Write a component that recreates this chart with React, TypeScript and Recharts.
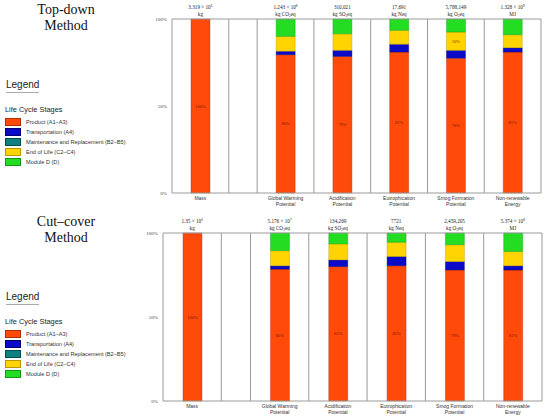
import React from 'react';
import { BarChart, Bar, XAxis, YAxis, ReferenceLine, LabelList } from 'recharts';

// ---- shared categories ----
const categoryLines: string[][] = [
  ['Mass'],
  ['Global Warming', 'Potential'],
  ['Acidification', 'Potential'],
  ['Eutrophication', 'Potential'],
  ['Smog Formation', 'Potential'],
  ['Non-renewable', 'Energy'],
];
// category centres on a numeric axis (the 2nd slot is a half-width empty gap)
const positions = [0.5, 2, 3, 4, 5, 6];
const dividers = [0, 1, 1.5, 2.5, 3.5, 4.5, 5.5, 6.5];
const yTicks = [0, 50, 100];

const stageNames = [
  'Product (A1–A3)',
  'Transportation (A4)',
  'Maintenance and Replacement (B2–B5)',
  'End of Life (C2–C4)',
  'Module D (D)',
];
const stageColors = ['#FF4A0A', '#0A0AC8', '#0E8080', '#FFD400', '#22DD22'];
const stageStrokes = ['#B03000', '#000070', '#005050', '#B89600', '#119911'];

// unit text per column
const unitMain = ['kg', 'kg CO', 'kg SO', 'kg Neq', 'kg O', 'MJ'];
const unitSub = ['', '2', '2', '', '3', ''];
const unitEnd = ['', 'eq', 'eq', '', 'eq', ''];

// ---- Top-down method ----
const topHeaderValues = ['3.319 × 10', '1.243 × 10', '310,021', '17,691', '5,788,149', '1.328 × 10'];
const topHeaderExps = ['6', '8', '', '', '', '9'];
const topProduct = [100, 79.5, 78.5, 81, 77.5, 81];
const topTransport = [0, 2, 3.5, 4.5, 4.5, 2.5];
const topMaint = [0, 0, 0, 0, 0, 0];
const topEol = [0, 8.5, 9.5, 8, 10.5, 7.5];
const topModuleD = [0, 10, 8.5, 6.5, 7.5, 9];
const topProductLabels = ['100%', '80%', '79%', '81%', '78%', '81%'];
const topEolLabels = ['', '', '', '', '10%', ''];

// ---- Cut-cover method ----
const botHeaderValues = ['1.35 × 10', '5.176 × 10', '134,269', '7721', '2,459,205', '5.374 × 10'];
const botHeaderExps = ['6', '7', '', '', '', '8'];
const botProduct = [100, 78.5, 80, 80.5, 78, 78];
const botTransport = [0, 2, 4, 5.5, 5, 2.5];
const botMaint = [0, 0, 0, 0, 0, 0];
const botEol = [0, 9, 9.5, 8.5, 10, 8.5];
const botModuleD = [0, 10.5, 6.5, 5.5, 7, 11];
const botProductLabels = ['100%', '80%', '81%', '82%', '79%', '81%'];
const botEolLabels = ['', '', '', '', '', ''];

const SERIF = '"Liberation Serif", "DejaVu Serif", serif';
const SANS = '"Liberation Sans", Arial, sans-serif';

function buildRows(
  product: number[], transport: number[], maint: number[], eol: number[], moduleD: number[],
  productLabels: string[], eolLabels: string[],
) {
  return positions.map((x, i) => ({
    x,
    product: product[i],
    transport: transport[i],
    maint: maint[i],
    eol: eol[i],
    moduleD: moduleD[i],
    productLabel: productLabels[i],
    eolLabel: eolLabels[i],
  }));
}

const makeHeaderTick = (values: string[], exps: string[]) => (props: any) => {
  const { x, y, payload } = props;
  const i = positions.indexOf(payload.value);
  if (i < 0) return <g />;
  return (
    <g>
      <text x={x} y={y} dy={-10} textAnchor="middle" fontSize={5.2} fontFamily={SERIF} fill="#222">
        {values[i]}
        {exps[i] ? <tspan dy={-1.8} fontSize={3.5}>{exps[i]}</tspan> : null}
      </text>
      <text x={x} y={y} dy={-3} textAnchor="middle" fontSize={5.2} fontFamily={SERIF} fill="#222">
        {unitMain[i]}
        {unitSub[i] ? <tspan dy={1.2} fontSize={3.5}>{unitSub[i]}</tspan> : null}
        {unitSub[i] ? <tspan dy={-1.2}>{unitEnd[i]}</tspan> : null}
      </text>
    </g>
  );
};

const CategoryTick = (props: any) => {
  const { x, y, payload } = props;
  const i = positions.indexOf(payload.value);
  if (i < 0) return <g />;
  return (
    <g>
      {categoryLines[i].map((line, k) => (
        <text key={k} x={x} y={y + 7 + k * 6.3} textAnchor="middle" fontSize={5} fontFamily={SANS} fill="#333">
          {line}
        </text>
      ))}
    </g>
  );
};

function Panel(props: {
  top: number; height: number; left: number; right: number; rows: any[];
  headerValues: string[]; headerExps: string[];
}) {
  const { rows } = props;
  const seriesKeys = ['product', 'transport', 'maint', 'eol', 'moduleD'];
  return (
    <div style={{ position: 'absolute', left: 0, top: props.top }}>
      <BarChart
        width={550}
        height={props.height}
        data={rows}
        margin={{ top: 0, right: props.right, bottom: 0, left: props.left }}
      >
        <XAxis
          xAxisId="top"
          orientation="top"
          type="number"
          dataKey="x"
          domain={[0, 6.5]}
          ticks={positions}
          interval={0}
          height={19}
          axisLine={false}
          tickLine={false}
          tickSize={0}
          tickMargin={0}
          tick={makeHeaderTick(props.headerValues, props.headerExps)}
        />
        <XAxis
          xAxisId="main"
          type="number"
          dataKey="x"
          domain={[0, 6.5]}
          ticks={positions}
          interval={0}
          height={19}
          axisLine={false}
          tickLine={false}
          tickSize={0}
          tickMargin={0}
          tick={CategoryTick}
        />
        <YAxis
          type="number"
          domain={[0, 100]}
          ticks={yTicks}
          width={32}
          axisLine={false}
          tickLine={false}
          tickSize={3}
          tickMargin={2}
          tickFormatter={(v: number) => `${v}%`}
          tick={{ fontSize: 5, fontFamily: SERIF, fill: '#444' }}
        />
        {seriesKeys.map((k, si) => (
          <Bar
            key={k}
            xAxisId="main"
            dataKey={k}
            stackId="s"
            barSize={19}
            fill={stageColors[si]}
            stroke={stageStrokes[si]}
            strokeWidth={0.4}
            isAnimationActive={false}
          >
            {k === 'product' ? (
              <LabelList dataKey="productLabel" position="center" fontSize={4.5} fontFamily={SERIF} fill="#7a1800" />
            ) : null}
            {k === 'eol' ? (
              <LabelList dataKey="eolLabel" position="center" fontSize={4.5} fontFamily={SERIF} fill="#7a3a00" />
            ) : null}
          </Bar>
        ))}
        {dividers.map((d) => (
          <ReferenceLine key={`d${d}`} xAxisId="main" x={d} stroke="#9a9a9a" strokeWidth={1} ifOverflow="extendDomain" />
        ))}
        <ReferenceLine xAxisId="main" y={100} stroke="#9a9a9a" strokeWidth={1} />
        <ReferenceLine xAxisId="main" y={0} stroke="#9a9a9a" strokeWidth={1} />
      </BarChart>
    </div>
  );
}

function SideBlock(props: { top: number; title: string[] }) {
  const t = props.top;
  return (
    <>
      {props.title.map((line, k) => (
        <div
          key={k}
          style={{
            position: 'absolute', left: 16, width: 100, top: t + k * 16 - 9, height: 18, lineHeight: '18px',
            textAlign: 'center', fontFamily: SERIF, fontSize: 14, color: '#111',
          }}
        >
          {line}
        </div>
      ))}
      <div
        style={{
          position: 'absolute', left: 6, top: t + 69, fontFamily: SANS, fontSize: 10, lineHeight: '12px',
          color: '#222', borderBottom: '1px solid #aaa', paddingBottom: 1,
        }}
      >
        Legend
      </div>
      <div
        style={{ position: 'absolute', left: 5, top: t + 95, fontFamily: SANS, fontSize: 7.4, lineHeight: '10px', color: '#222' }}
      >
        Life Cycle Stages
      </div>
      {stageNames.map((name, i) => (
        <div key={name} style={{ position: 'absolute', left: 5, top: t + 108 + i * 10, height: 8, display: 'flex', alignItems: 'center' }}>
          <div style={{ width: 16, height: 7.5, background: stageColors[i], boxSizing: 'border-box', border: `0.5px solid ${stageStrokes[i]}` }} />
          <div style={{ marginLeft: 5, fontFamily: SANS, fontSize: 5.6, color: '#333', whiteSpace: 'nowrap' }}>{name}</div>
        </div>
      ))}
    </>
  );
}

export default function App() {
  const topRows = buildRows(topProduct, topTransport, topMaint, topEol, topModuleD, topProductLabels, topEolLabels);
  const botRows = buildRows(botProduct, botTransport, botMaint, botEol, botModuleD, botProductLabels, botEolLabels);
  return (
    <div style={{ position: 'absolute', left: 0, top: 0, width: 550, height: 420, background: '#fff', overflow: 'hidden' }}>
      <SideBlock top={10} title={['Top-down', 'Method']} />
      <SideBlock top={222} title={['Cut–cover', 'Method']} />
      <Panel top={0} height={212} left={140} right={9} rows={topRows} headerValues={topHeaderValues} headerExps={topHeaderExps} />
      <Panel top={214} height={206} left={131} right={8} rows={botRows} headerValues={botHeaderValues} headerExps={botHeaderExps} />
    </div>
  );
}
